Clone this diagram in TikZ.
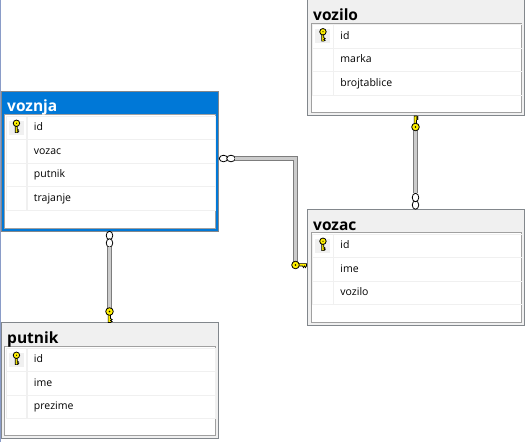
\documentclass[tikz,border=0pt]{standalone}
\usepackage{fontspec}
\setmainfont{Open Sans}
\usetikzlibrary{matrix,positioning,shapes.geometric}
\definecolor{myblue}{RGB}{0,120,215}
\definecolor{mygray}{RGB}{240,240,240}
\definecolor{myframe}{RGB}{130,135,140}
\definecolor{myinner}{RGB}{160,160,160}
\definecolor{mypipe}{RGB}{125,125,125}
\definecolor{myyellow}{RGB}{255,240,0}
\definecolor{myedge}{RGB}{138,156,200}

\begin{document}
\begin{tikzpicture}[x=1pt,y=-1pt,
  tblbox/.style={draw=myframe,line width=1pt,fill=mygray,anchor=north west,
    minimum width=217pt,inner sep=0pt,outer sep=0pt},
  selbox/.style={tblbox,fill=myblue,draw=myframe},
  tblbody/.style={draw=myinner,line width=1pt,fill=white,anchor=north west,
    minimum width=210.5pt,inner sep=0pt,outer sep=0pt},
  tbltitle/.style={anchor=base west,inner sep=0pt,font=\fontsize{15.5}{16}\selectfont\bfseries},
  fmat/.style={matrix of nodes,nodes in empty cells,anchor=north west,
    inner sep=0pt,outer sep=0pt,row sep=-0.9pt,column sep=-0.9pt,
    nodes={draw=mygray,line width=0.9pt,minimum height=23.6pt,inner sep=0pt,outer sep=0pt,
      font=\fontsize{10.5}{12}\selectfont,text height=8pt,text depth=2.5pt},
    column 1/.style={nodes={minimum width=21pt}},
    column 2/.style={nodes={text width=174.5pt,align=left,inner xsep=7pt}}},
  keycell/.style={fill=mygray,minimum width=15pt,minimum height=14pt,inner sep=0pt},
  ringh/.style={draw=black,fill=white,ellipse,line width=0.8pt,minimum width=8.5pt,minimum height=6.5pt,inner sep=0pt,outer sep=0pt},
  ringv/.style={ringh,minimum width=6.5pt,minimum height=8.5pt},
  pipe/.style={draw=mypipe,line width=1pt,double=mygray!85!black,double distance=2.6pt},
  pics/relkey/.style={code={
    \draw[draw=black,fill=myyellow,line width=0.7pt] (3,-1.4) -- (11,-1.4) -- (11,1) -- (10,2.6)
      -- (9,1) -- (8,2.6) -- (7,1) -- (3,1) -- cycle;
    \draw[draw=black,fill=myyellow,line width=0.8pt] (0,0) circle (3.8);
    \fill[black] (0,0) circle (0.8);}}]

  \path[use as bounding box,fill=white] (0,0) rectangle (525,442);
  \draw[myedge,line width=1pt] (0.5,0) -- (0.5,442);

  % vozilo
  \node[tblbox,minimum height=117.5pt] (vozilo) at (307.5,-2) {};
  \node[tblbody,minimum height=89.5pt] (voziloBody) at (311,23) {};
  \node[tbltitle] (voziloTitle) at (313,20) {vozilo};
  \matrix[fmat] (voziloMat) at (312,24) {
    & id\\
    & marka\\
    & brojtablice\\};

  % voznja
  \node[selbox,minimum height=140pt] (voznja) at (1.5,91) {};
  \node[tblbody,minimum height=114pt] (voznjaBody) at (4.5,114.5) {};
  \node[tbltitle,text=white] (voznjaTitle) at (7,111) {voznja};
  \matrix[fmat] (voznjaMat) at (5.5,115.5) {
    & id\\
    & vozac\\
    & putnik\\
    & trajanje\\};

  % vozac
  \node[tblbox,minimum height=115.5pt] (vozac) at (307.5,209.5) {};
  \node[tblbody,minimum height=89.5pt] (vozacBody) at (311,232.5) {};
  \node[tbltitle] (vozacTitle) at (313,230) {vozac};
  \matrix[fmat] (vozacMat) at (312,233.5) {
    & id\\
    & ime\\
    & vozilo\\};

  % putnik
  \node[tblbox,minimum height=115.5pt] (putnik) at (1.5,322.5) {};
  \node[tblbody,minimum height=89pt] (putnikBody) at (4.5,346.5) {};
  \node[tbltitle] (putnikTitle) at (7,343) {putnik};
  \matrix[fmat] (putnikMat) at (5.5,347.5) {
    & id\\
    & ime\\
    & prezime\\};

  % key marks in the id rows
  \node[keycell] (voziloCell) at (voziloMat-1-1) {};
  \node[keycell] (voznjaCell) at (voznjaMat-1-1) {};
  \node[keycell] (vozacCell) at (vozacMat-1-1) {};
  \node[keycell] (putnikCell) at (putnikMat-1-1) {};
  \pic[rotate=-90,yscale=-1,scale=0.85] at ([yshift=4.5pt]voziloCell) {relkey};
  \pic[rotate=-90,yscale=-1,scale=0.85] at ([yshift=4.5pt]voznjaCell) {relkey};
  \pic[rotate=-90,yscale=-1,scale=0.85] at ([yshift=4.5pt]vozacCell) {relkey};
  \pic[rotate=-90,yscale=-1,scale=0.85] at ([yshift=4.5pt]putnikCell) {relkey};

  % voznja to vozac
  \node[ringh] (ringA1) at (223.5,158.5) {};
  \node[ringh] (ringA2) at (231,158.5) {};
  \coordinate (keyA) at (295.5,265);
  \draw[pipe] (ringA2.east) -| (keyA);
  \pic at (keyA) {relkey};

  % voznja to putnik
  \node[ringv] (ringB1) at (109.5,235.5) {};
  \node[ringv] (ringB2) at (109.5,243) {};
  \coordinate (keyB) at (109.5,311.5);
  \draw[pipe] (ringB2.south) -- (keyB);
  \pic[rotate=-90,yscale=-1] at (keyB) {relkey};

  % vozac to vozilo
  \node[ringv] (ringC1) at (415.5,205) {};
  \node[ringv] (ringC2) at (415.5,197.5) {};
  \coordinate (keyC) at (415.5,127);
  \draw[pipe] (ringC2.north) -- (keyC);
  \pic[rotate=90] at (keyC) {relkey};

\end{tikzpicture}
\end{document}
